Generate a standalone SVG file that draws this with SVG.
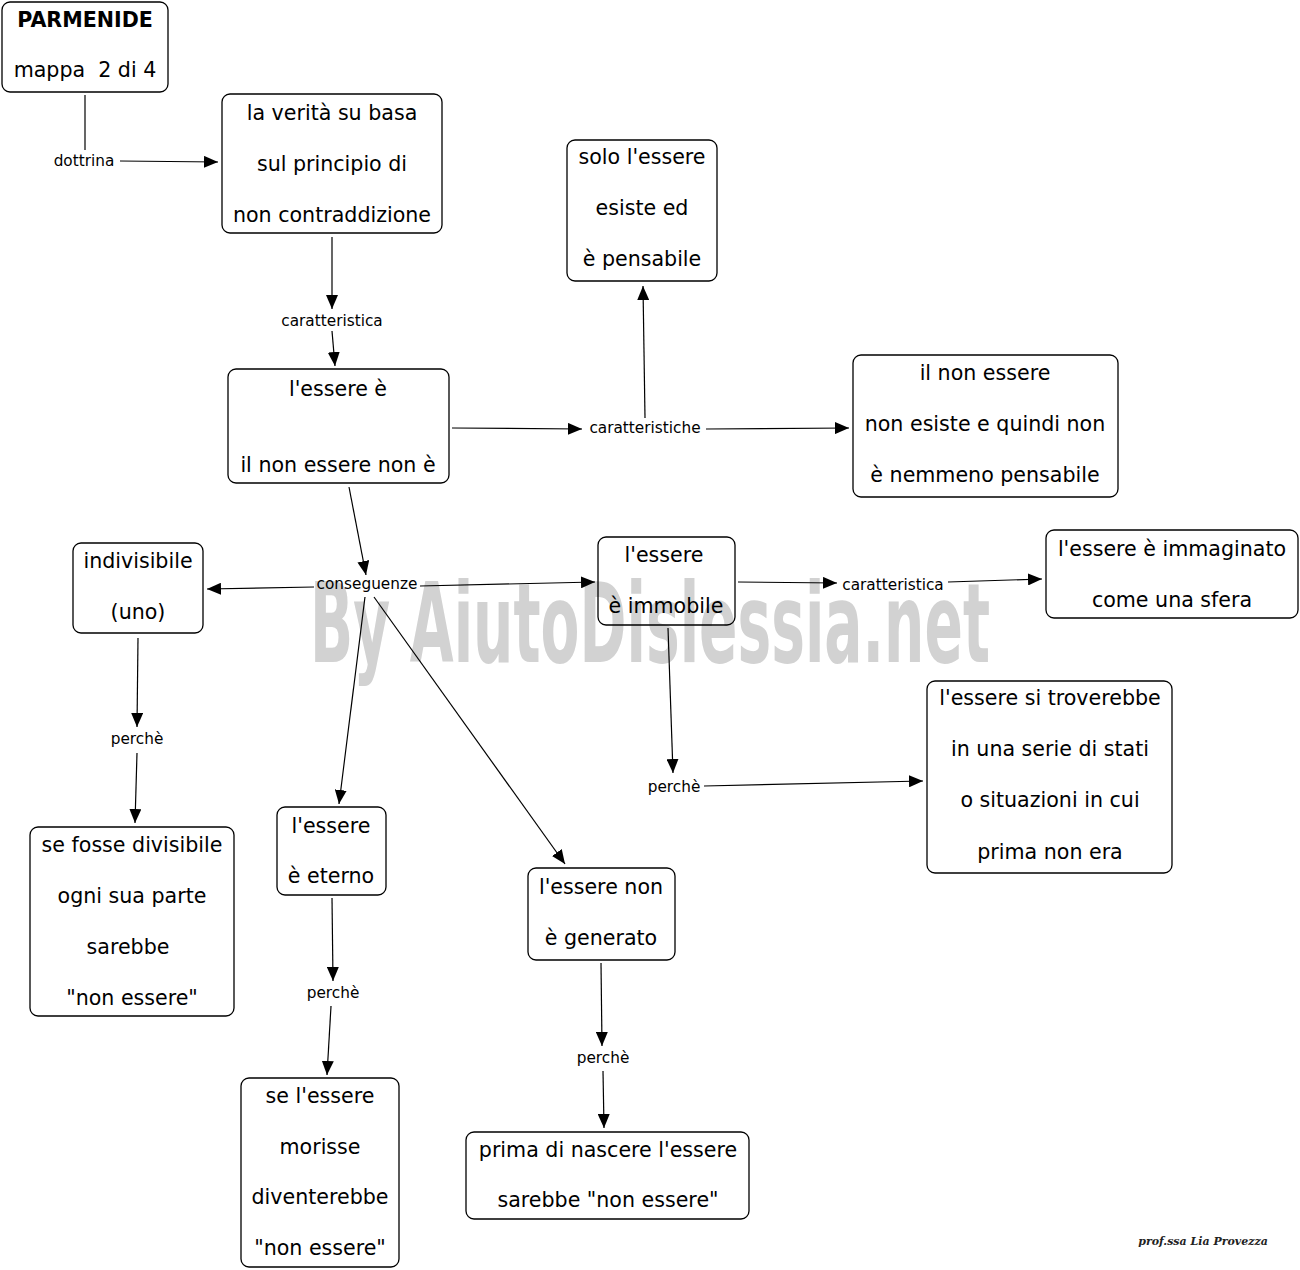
<svg xmlns="http://www.w3.org/2000/svg" width="1300" height="1270" viewBox="0 0 1300 1270">
<style>
.node rect{fill:none;stroke:#000;stroke-width:1.3}
.node text{font-family:"DejaVu Sans",Verdana,sans-serif;font-size:20.6px;text-anchor:middle;fill:#000}
.lbl{font-family:"DejaVu Sans",Verdana,sans-serif;font-size:15.3px;text-anchor:middle;fill:#000}
#connectors line{stroke:#000;stroke-width:1.2}
.wm{font-family:"DejaVu Sans",sans-serif;font-stretch:condensed;font-weight:bold;font-size:110px;fill:#d2d2d2}
</style>
<defs>
<marker id="ah" markerUnits="userSpaceOnUse" markerWidth="14" markerHeight="12" refX="14" refY="6" orient="auto">
<path d="M0,0 L14,6 L0,12 z" fill="#000"/>
</marker>
</defs>
<rect width="1300" height="1270" fill="#fff"/>
<text class="wm" x="310" y="662" textLength="680" lengthAdjust="spacingAndGlyphs">By AiutoDislessia.net</text>

<g id="connectors">
<line x1="85" y1="95" x2="85" y2="150"/>
<line x1="120" y1="161" x2="218" y2="162" marker-end="url(#ah)"/>
<line x1="332" y1="237" x2="332" y2="309" marker-end="url(#ah)"/>
<line x1="332" y1="331" x2="335" y2="366" marker-end="url(#ah)"/>
<line x1="452" y1="428" x2="582" y2="429" marker-end="url(#ah)"/>
<line x1="645" y1="418" x2="643" y2="286" marker-end="url(#ah)"/>
<line x1="706" y1="429" x2="849" y2="428" marker-end="url(#ah)"/>
<line x1="349" y1="487" x2="366" y2="575" marker-end="url(#ah)"/>
<line x1="314" y1="587" x2="207" y2="589" marker-end="url(#ah)"/>
<line x1="420" y1="586" x2="595" y2="582" marker-end="url(#ah)"/>
<line x1="365" y1="597" x2="339" y2="804" marker-end="url(#ah)"/>
<line x1="374" y1="597" x2="565" y2="864" marker-end="url(#ah)"/>
<line x1="738" y1="582" x2="837" y2="583" marker-end="url(#ah)"/>
<line x1="948" y1="582" x2="1042" y2="579" marker-end="url(#ah)"/>
<line x1="668" y1="628" x2="673" y2="773" marker-end="url(#ah)"/>
<line x1="704" y1="786" x2="923" y2="781" marker-end="url(#ah)"/>
<line x1="138" y1="638" x2="137" y2="727" marker-end="url(#ah)"/>
<line x1="137" y1="753" x2="135" y2="823" marker-end="url(#ah)"/>
<line x1="332" y1="898" x2="333" y2="981" marker-end="url(#ah)"/>
<line x1="331" y1="1006" x2="327" y2="1075" marker-end="url(#ah)"/>
<line x1="601" y1="963" x2="602" y2="1046" marker-end="url(#ah)"/>
<line x1="603" y1="1071" x2="604" y2="1128" marker-end="url(#ah)"/>
<text class="lbl" x="84" y="166">dottrina</text>
<text class="lbl" x="332" y="326">caratteristica</text>
<text class="lbl" x="645" y="433">caratteristiche</text>
<text class="lbl" x="367" y="589">conseguenze</text>
<text class="lbl" x="893" y="590">caratteristica</text>
<text class="lbl" x="137" y="744">perchè</text>
<text class="lbl" x="674" y="792">perchè</text>
<text class="lbl" x="333" y="998">perchè</text>
<text class="lbl" x="603" y="1063">perchè</text>
</g>

<g id="n1" class="node"><rect x="2" y="2" width="166" height="90" rx="8"/>
<text x="85" y="27" font-weight="bold">PARMENIDE</text><text x="85" y="77" xml:space="preserve">mappa  2 di 4</text></g>
<g id="n2" class="node"><rect x="222" y="94" width="220" height="139" rx="8"/>
<text x="332" y="120">la verità su basa</text><text x="332" y="171">sul principio di</text><text x="332" y="222">non contraddizione</text></g>
<g id="n3" class="node"><rect x="567" y="140" width="150" height="141" rx="8"/>
<text x="642" y="164">solo l'essere</text><text x="642" y="215">esiste ed</text><text x="642" y="266">è pensabile</text></g>
<g id="n4" class="node"><rect x="228" y="369" width="221" height="114" rx="8"/>
<text x="338" y="396">l'essere è</text><text x="338" y="472">il non essere non è</text></g>
<g id="n5" class="node"><rect x="853" y="355" width="265" height="142" rx="8"/>
<text x="985" y="380">il non essere</text><text x="985" y="431">non esiste e quindi non</text><text x="985" y="482">è nemmeno pensabile</text></g>
<g id="n6" class="node"><rect x="73" y="543" width="130" height="90" rx="8"/>
<text x="138" y="568">indivisibile</text><text x="138" y="619">(uno)</text></g>
<g id="n7" class="node"><rect x="598" y="537" width="137" height="88" rx="8"/>
<text x="664" y="562">l'essere</text><text x="666" y="613">è immobile</text></g>
<g id="n8" class="node"><rect x="1046" y="530" width="252" height="88" rx="8"/>
<text x="1172" y="556">l'essere è immaginato</text><text x="1172" y="607">come una sfera</text></g>
<g id="n9" class="node"><rect x="927" y="681" width="245" height="192" rx="8"/>
<text x="1050" y="705">l'essere si troverebbe</text><text x="1050" y="756">in una serie di stati</text><text x="1050" y="807">o situazioni in cui</text><text x="1050" y="859">prima non era</text></g>
<g id="n10" class="node"><rect x="30" y="827" width="204" height="189" rx="8"/>
<text x="132" y="852">se fosse divisibile</text><text x="132" y="903">ogni sua parte</text><text x="128" y="954">sarebbe</text><text x="132" y="1005">"non essere"</text></g>
<g id="n11" class="node"><rect x="277" y="807" width="109" height="88" rx="8"/>
<text x="331" y="833">l'essere</text><text x="331" y="883">è eterno</text></g>
<g id="n12" class="node"><rect x="528" y="868" width="147" height="92" rx="8"/>
<text x="601" y="894">l'essere non</text><text x="601" y="945">è generato</text></g>
<g id="n13" class="node"><rect x="241" y="1078" width="158" height="189" rx="8"/>
<text x="320" y="1103">se l'essere</text><text x="320" y="1154">morisse</text><text x="320" y="1204">diventerebbe</text><text x="320" y="1255">"non essere"</text></g>
<g id="n14" class="node"><rect x="466" y="1132" width="283" height="87" rx="8"/>
<text x="608" y="1157">prima di nascere l'essere</text><text x="608" y="1207">sarebbe "non essere"</text></g>

<text x="1203" y="1245" font-family="DejaVu Serif,serif" font-style="italic" font-weight="bold" font-size="11" text-anchor="middle" fill="#222">prof.ssa Lia Provezza</text>
</svg>
